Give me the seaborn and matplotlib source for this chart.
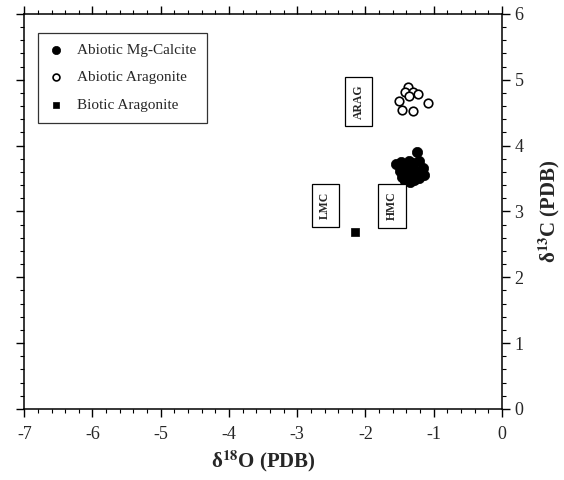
import numpy as np
import pandas as pd
import seaborn as sns
from matplotlib import pyplot as plt
from matplotlib.ticker import MultipleLocator

# Data (delta18O, delta13C)
mgc_x = [-1.55, -1.48, -1.42, -1.36, -1.30, -1.22, -1.16, -1.50, -1.44, -1.38, -1.32, -1.26,
         -1.20, -1.14, -1.47, -1.40, -1.34, -1.28, -1.22, -1.42, -1.35, -1.29, -1.25]
mgc_y = [3.72, 3.75, 3.68, 3.76, 3.73, 3.77, 3.66, 3.62, 3.60, 3.64, 3.58, 3.62,
         3.57, 3.55, 3.52, 3.50, 3.53, 3.49, 3.51, 3.46, 3.45, 3.47, 3.90]

arag_x = [-1.37, -1.42, -1.30, -1.23, -1.36, -1.51, -1.46, -1.31, -1.09]
arag_y = [4.89, 4.82, 4.81, 4.79, 4.75, 4.67, 4.54, 4.53, 4.65]

bio_x = [-2.15]
bio_y = [2.69]

box_labels = ["ARAG", "LMC", "HMC"]
box_x = [-2.10, -2.59, -1.61]
box_y = [4.67, 3.09, 3.09]

sns.set_theme(style="white")
plt.rcParams['font.family'] = ['Liberation Serif', 'DejaVu Serif']
plt.rcParams['mathtext.fontset'] = 'stix'

fig = plt.figure(figsize=(5.64, 4.8), dpi=100)
ax = fig.add_axes([0.043, 0.148, 0.847, 0.823])

df_mgc = pd.DataFrame({"d18O": mgc_x, "d13C": mgc_y})
df_arag = pd.DataFrame({"d18O": arag_x, "d13C": arag_y})
df_bio = pd.DataFrame({"d18O": bio_x, "d13C": bio_y})

sns.scatterplot(data=df_mgc, x="d18O", y="d13C", ax=ax, marker="o", s=55,
                color="black", edgecolor="black", linewidth=0.5, label="Abiotic Mg-Calcite")
sns.scatterplot(data=df_arag, x="d18O", y="d13C", ax=ax, marker="o", s=38,
                facecolor="white", edgecolor="black", linewidth=1.2, label="Abiotic Aragonite")
sns.scatterplot(data=df_bio, x="d18O", y="d13C", ax=ax, marker="s", s=30,
                color="black", edgecolor="black", linewidth=0.5, label="Biotic Aragonite")

# mineral field labels
for lab, bx, by in zip(box_labels, box_x, box_y):
    ax.text(bx, by, lab, rotation=90, ha="center", va="center", fontsize=8.5,
            fontweight="bold",
            bbox=dict(boxstyle="square,pad=0.65", facecolor="white", edgecolor="black", linewidth=0.9))

ax.set_xlim(-7, 0)
ax.set_ylim(0, 6)
ax.xaxis.set_major_locator(MultipleLocator(1))
ax.xaxis.set_minor_locator(MultipleLocator(0.2))
ax.yaxis.set_major_locator(MultipleLocator(1))
ax.yaxis.set_minor_locator(MultipleLocator(0.2))
ax.xaxis.set_major_formatter(plt.FuncFormatter(lambda v, p: "%d" % v))

ax.yaxis.tick_right()
ax.yaxis.set_label_position("right")
ax.tick_params(which="major", direction="out", length=6, width=1, color="black",
               top=True, bottom=True, left=True, right=True, labelsize=13,
               labelleft=False, labelright=True, labeltop=False, labelbottom=True)
ax.tick_params(axis="x", which="major", pad=6)
ax.tick_params(axis="y", which="major", pad=3)
ax.tick_params(which="minor", direction="out", length=3, width=0.8, color="black",
               top=True, bottom=True, left=True, right=True)
for sp in ax.spines.values():
    sp.set_color("black")
    sp.set_linewidth(1.1)

ax.set_xlabel("δ$^{\\mathbf{18}}$O (PDB)", fontsize=15, fontweight="bold", labelpad=4)
ax.set_ylabel("δ$^{\\mathbf{13}}$C (PDB)", fontsize=15, fontweight="bold", labelpad=9)

leg = ax.legend(loc="upper left", bbox_to_anchor=(0.012, 0.972), frameon=True, fancybox=False,
                edgecolor="black", fontsize=11, handletextpad=0.9, labelspacing=0.9,
                borderpad=0.7, handlelength=1.0, markerscale=0.8)
leg.get_frame().set_linewidth(0.9)

fig.savefig("out.png", dpi=100)
